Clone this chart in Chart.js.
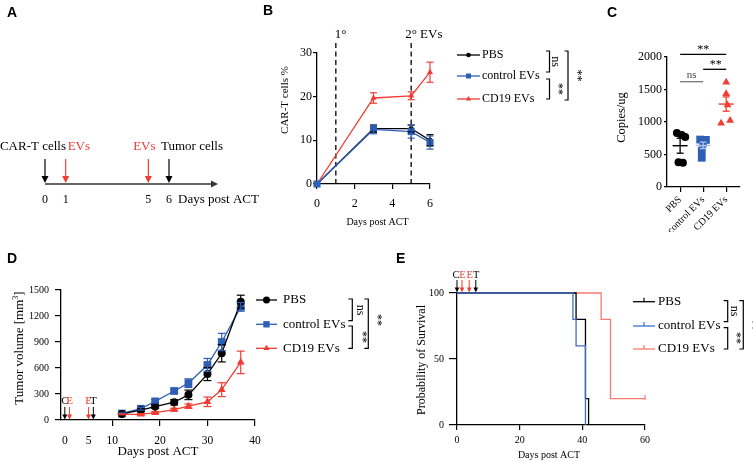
<!DOCTYPE html>
<html><head><meta charset="utf-8">
<script src="https://cdn.jsdelivr.net/npm/chart.js@4.4.1/dist/chart.umd.min.js"></script>
<style>
html,body{margin:0;padding:0;background:#fff;}
#wrap{position:relative;width:753px;height:462px;overflow:hidden;background:#fff;}
#wrap canvas{position:absolute;left:0;top:0;}
.lbl{position:absolute;font:bold 14px "Liberation Sans",Arial,sans-serif;color:#000;line-height:14px;}
</style></head><body>
<div id="wrap">
<canvas id="cA" width="753" height="462"></canvas>
<canvas id="cB" width="753" height="462"></canvas>
<canvas id="cC" width="753" height="462"></canvas>
<canvas id="cD" width="753" height="462"></canvas>
<canvas id="cE" width="753" height="462"></canvas>
<div class="lbl" style="left:7px;top:5px">A</div>
<div class="lbl" style="left:263px;top:3px">B</div>
<div class="lbl" style="left:607px;top:5px">C</div>
<div class="lbl" style="left:7px;top:251px">D</div>
<div class="lbl" style="left:396px;top:251px">E</div>
</div>
<script>
// ---------------- DATA ----------------
// Panel A (timeline)
const timelineDays = [0, 1, 5, 6];
const timelineEvents = ['CAR-T cells', 'EVs', 'EVs', 'Tumor cells'];
const timelineTicks = [0, 1, 5, 6];

// Panel B
const bDays = [0, 3, 5, 6];
const bPBS = [0, 12.7, 12.7, 10.0];
const bPBSErr = [0, 0.8, 0.8, 1.3];
const bCtrl = [0, 12.5, 12.0, 9.5];
const bCtrlErr = [0, 1.0, 1.5, 1.5];
const bCD19 = [0, 19.7, 20.2, 25.6];
const bCD19Err = [0, 1.2, 0.9, 2.3];
const bEVDays = [1, 5];
const bEVLabels = ['1°', '2° EVs'];
const bXTicks = [0, 2, 4, 6];
const bYTicks = [0, 10, 20, 30];

// Panel C
const cGroups = ['PBS', 'control EVs', 'CD19 EVs'];
const cPBS = [830, 800, 770, 380, 375];
const cPBSJitter = [-0.14, 0.07, 0.22, -0.07, 0.12];
const cCtrl = [730, 725, 680, 555, 450];
const cCtrlJitter = [-0.13, 0.12, 0.0, -0.06, -0.06];
const cCD19 = [1610, 1435, 1260, 982, 1023];
const cCD19Jitter = [0.0, 0.0, 0.06, -0.22, 0.17];
const cMean = [635, 640, 1276];
const cSEM = [115, 50, 110];
const cYTicks = [0, 500, 1000, 1500, 2000];

// Panel D
const dDays = [12, 16, 19, 23, 26, 30, 33, 37];
const dPBS = [70, 115, 155, 205, 290, 530, 770, 1365];
const dPBSErr = [8, 15, 20, 30, 55, 75, 100, 75];
const dCtrl = [75, 130, 215, 335, 425, 635, 900, 1305];
const dCtrlErr = [8, 15, 20, 20, 50, 75, 100, 50];
const dCD19 = [65, 65, 85, 120, 160, 210, 350, 665];
const dCD19Err = [5, 10, 12, 15, 25, 55, 80, 130];
const dEventDays = [0, 1, 5, 6];
const dEventLabels = ['C', 'E', 'E', 'T'];
const dXTicks = [0, 5, 10, 20, 30, 40];
const dYTicks = [0, 300, 600, 900, 1200, 1500];

// Panel E (Kaplan-Meier)
const ePBSTimes = [0, 38, 41, 42];
const ePBSSurv = [100, 80, 20, 0];
const eCtrlTimes = [0, 37, 38, 41];
const eCtrlSurv = [100, 80, 60, 0];
const eCD19Times = [0, 46, 49, 60];
const eCD19Surv = [100, 80, 20, 20];
const eEventDays = [0, 1.6, 3.9, 6];
const eEventLabels = ['C', 'E', 'E', 'T'];
const eXTicks = [0, 20, 40, 60];
const eYTicks = [0, 50, 100];

const seriesNames = ['PBS', 'control EVs', 'CD19 EVs'];

// ---------------- STYLE ----------------
const SERIF = '"Liberation Serif","Times New Roman",serif';
const BLACK = '#000000', BLUE = '#2f5fb5', RED = '#f03c32';
const BLUE_E = '#3d6fc6', RED_E = '#f47b6e';
const eventColor = l => (l === 'E' || l === 'EVs') ? RED : BLACK;

// ---------------- HELPERS ----------------
function txt(ctx, s, x, y, size, color, align, rot) {
  ctx.save();
  ctx.font = size + 'px ' + SERIF;
  ctx.fillStyle = color || '#000';
  ctx.textAlign = align || 'center';
  ctx.textBaseline = 'middle';
  ctx.translate(x, y);
  if (rot) ctx.rotate(rot);
  ctx.fillText(s, 0, 0);
  ctx.restore();
}
function seg(ctx, x1, y1, x2, y2, color, w, dash) {
  ctx.save();
  ctx.strokeStyle = color || '#000';
  ctx.lineWidth = w || 1.2;
  if (dash) ctx.setLineDash(dash);
  ctx.beginPath(); ctx.moveTo(x1, y1); ctx.lineTo(x2, y2); ctx.stroke();
  ctx.restore();
}
function arrowDown(ctx, x, y1, y2, color, hw, hh, w) {
  seg(ctx, x, y1, x, y2 - hh + 1, color, w || 1.2);
  ctx.save(); ctx.fillStyle = color; ctx.beginPath();
  ctx.moveTo(x - hw, y2 - hh); ctx.lineTo(x + hw, y2 - hh); ctx.lineTo(x, y2); ctx.closePath(); ctx.fill();
  ctx.restore();
}
function bracket(ctx, x, y1, y2, t) {
  ctx.save(); ctx.strokeStyle = '#000'; ctx.lineWidth = 1.2;
  ctx.beginPath(); ctx.moveTo(x - t, y1); ctx.lineTo(x, y1); ctx.lineTo(x, y2); ctx.lineTo(x - t, y2); ctx.stroke();
  ctx.restore();
}
function mark(ctx, style, x, y, r, color) {
  ctx.save(); ctx.fillStyle = color; ctx.beginPath();
  if (style === 'circle') ctx.arc(x, y, r, 0, Math.PI * 2);
  else if (style === 'rect') { const s = r * Math.SQRT1_2; ctx.rect(x - s, y - s, 2 * s, 2 * s); }
  else { ctx.moveTo(x, y - r); ctx.lineTo(x + r * 0.866, y + r * 0.5); ctx.lineTo(x - r * 0.866, y + r * 0.5); ctx.closePath(); }
  ctx.fill(); ctx.restore();
}
function errBars(chart, xs, ys, errs, color, cap) {
  const X = chart.scales.x, Y = chart.scales.y, ctx = chart.ctx;
  xs.forEach((xv, i) => {
    if (!errs[i]) return;
    const px = X.getPixelForValue(xv);
    const yt = Y.getPixelForValue(ys[i] + errs[i]), yb = Y.getPixelForValue(ys[i] - errs[i]);
    seg(ctx, px, yt, px, yb, color, 1.2);
    seg(ctx, px - cap, yt, px + cap, yt, color, 1.2);
    seg(ctx, px - cap, yb, px + cap, yb, color, 1.2);
  });
}
function pts(xs, ys) { return xs.map((x, i) => ({ x: x, y: ys[i] })); }

function ax(o) {
  return {
    type: 'linear', min: o.min, max: o.max, display: o.display !== false,
    afterBuildTicks: s => { s.ticks = o.ticks.map(v => ({ value: v })); },
    afterFit: s => {
      if (o.w != null) s.width = o.w;
      if (o.h != null) s.height = o.h;
      s.paddingLeft = 0; s.paddingRight = 0; s.paddingTop = 0; s.paddingBottom = 0;
    },
    grid: { display: o.grid !== false, drawOnChartArea: false, drawTicks: o.grid !== false, tickLength: o.tl || 0, lineWidth: 1.2, color: o.gridColor || '#000' },
    border: { display: o.border !== false, color: '#000', width: 1.3 },
    ticks: { autoSkip: false, maxRotation: o.rot || 0, minRotation: o.rot || 0, padding: o.pad, color: '#000',
      font: { family: SERIF, size: o.size }, callback: o.cb || (v => String(v)) }
  };
}
function opts(pad, xs, ys) {
  return {
    responsive: false, animation: false, events: [], maintainAspectRatio: false,
    layout: { padding: pad },
    plugins: { legend: { display: false }, tooltip: { enabled: false }, title: { display: false } },
    scales: { x: xs, y: ys }
  };
}
function legendItem(ctx, x1, x2, y, color, style, r, tx, text, size) {
  seg(ctx, x1, y, x2, y, color, 1.3);
  if (style) mark(ctx, style, (x1 + x2) / 2, y, r, color);
  txt(ctx, text, tx, y, size, '#000', 'left');
}

// ---------------- PANEL A ----------------
new Chart(document.getElementById('cA'), {
  type: 'scatter',
  data: { datasets: [{ data: timelineDays.map(d => ({ x: d, y: 0 })), pointRadius: 0, showLine: false }] },
  options: opts({ left: 45, right: 753 - 218, top: 150, bottom: 462 - 184 - 30 },
    ax({ min: 0, max: 8.37, ticks: timelineTicks, grid: false, border: false, pad: 9, size: 12, h: 30 }),
    ax({ min: 0, max: 1, ticks: [0, 1], display: false })),
  plugins: [{
    id: 'aExtras',
    afterDraw(chart) {
      const ctx = chart.ctx, X = chart.scales.x, yb = chart.chartArea.bottom;
      const x0 = X.getPixelForValue(0), xe = chart.chartArea.right;
      seg(ctx, x0, yb, xe - 5, yb, '#333', 1.3);
      ctx.save(); ctx.fillStyle = '#333'; ctx.beginPath();
      ctx.moveTo(xe - 7, yb - 3.5); ctx.lineTo(xe, yb); ctx.lineTo(xe - 7, yb + 3.5); ctx.closePath(); ctx.fill(); ctx.restore();
      const offs = [[21, 'right'], [2, 'left'], [-4, 'center'], [-8, 'left']];
      timelineDays.forEach((d, i) => {
        const px = X.getPixelForValue(d), c = eventColor(timelineEvents[i]);
        arrowDown(ctx, px, yb - 25, yb - 1, c, 3.5, 7, 1.2);
        txt(ctx, timelineEvents[i], px + offs[i][0], yb - 37, 13, c, offs[i][1]);
      });
      txt(ctx, 'Days post ACT', 178, 200, 13, '#000', 'left');
    }
  }]
});

// ---------------- PANEL B ----------------
new Chart(document.getElementById('cB'), {
  type: 'scatter',
  data: { datasets: [
    { data: pts(bDays, bPBS), borderColor: BLACK, backgroundColor: BLACK, showLine: true, borderWidth: 1.3, pointStyle: 'circle', pointRadius: 2.5, pointBorderWidth: 0, order: 3, clip: false },
    { data: pts(bDays, bCtrl), borderColor: BLUE, backgroundColor: BLUE, showLine: true, borderWidth: 1.3, pointStyle: 'rect', pointRadius: 5, pointBorderWidth: 0, order: 1, clip: false },
    { data: pts(bDays, bCD19), borderColor: RED, backgroundColor: RED, showLine: true, borderWidth: 1.3, pointStyle: 'triangle', pointRadius: 3.5, pointBorderWidth: 0, order: 2, clip: false }
  ] },
  options: opts({ left: 317 - 40, right: 753 - 430, top: 53, bottom: 462 - 184 - 45 },
    ax({ min: 0, max: 6, ticks: bXTicks, tl: 5, pad: 8, size: 12, h: 45 }),
    ax({ min: 0, max: 30, ticks: bYTicks, tl: 4, pad: 1, size: 12, w: 40 })),
  plugins: [{
    id: 'bExtras',
    beforeDatasetsDraw(chart) {
      const ctx = chart.ctx, X = chart.scales.x, Y = chart.scales.y;
      bEVDays.forEach((d, i) => {
        const px = X.getPixelForValue(d);
        seg(ctx, px, 43, px, Y.getPixelForValue(0), '#000', 1.3, [5, 3.5]);
        txt(ctx, bEVLabels[i], px + (i === 0 ? -1 : -6), 35, 13, '#000', 'left');
      });
    },
    afterDatasetsDraw(chart) {
      const ctx = chart.ctx;
      errBars(chart, bDays, bPBS, bPBSErr, BLACK, 3.5);
      errBars(chart, bDays, bCtrl, bCtrlErr, BLUE, 3.5);
      errBars(chart, bDays, bCD19, bCD19Err, RED, 3.5);
      legendItem(ctx, 457, 480, 55, BLACK, 'circle', 2.3, 482, seriesNames[0], 12);
      legendItem(ctx, 457, 480, 76, BLUE, 'rect', 3.5, 482, seriesNames[1], 12);
      legendItem(ctx, 457, 480, 99, RED, 'triangle', 3, 482, seriesNames[2], 12);
      bracket(ctx, 549.5, 51, 72, 3.5);
      txt(ctx, 'ns', 555.5, 61.5, 12, '#000', 'center', Math.PI / 2);
      bracket(ctx, 549.5, 79, 99, 3.5);
      txt(ctx, '**', 558, 89, 12, '#000', 'center', Math.PI / 2);
      bracket(ctx, 568, 51, 100, 3.5);
      txt(ctx, '**', 577, 75.5, 12, '#000', 'center', Math.PI / 2);
      txt(ctx, 'CAR-T cells %', 285, 100, 11, '#000', 'center', -Math.PI / 2);
      txt(ctx, 'Days post ACT', 377.5, 222, 10, '#000', 'center');
    }
  }]
});

// ---------------- PANEL C ----------------
new Chart(document.getElementById('cC'), {
  type: 'scatter',
  data: { datasets: [
    { data: cPBS.map((v, i) => ({ x: 0 + cPBSJitter[i], y: v })), backgroundColor: BLACK, pointStyle: 'circle', pointRadius: 4, pointBorderWidth: 0, clip: false },
    { data: cCtrl.map((v, i) => ({ x: 1 + cCtrlJitter[i], y: v })), backgroundColor: BLUE, pointStyle: 'rect', pointRadius: 5.5, pointBorderWidth: 0, clip: false },
    { data: cCD19.map((v, i) => ({ x: 2 + cCD19Jitter[i], y: v })), backgroundColor: RED, pointStyle: 'triangle', pointRadius: 4.5, pointBorderWidth: 0, clip: false }
  ] },
  options: opts({ left: 667 - 52, right: 753 - 740, top: 57, bottom: 462 - 187 - 45 },
    ax({ min: -0.57, max: 2.6, ticks: [0, 1, 2], tl: 5, pad: 2, size: 10, rot: 45, h: 45, cb: v => cGroups[v] }),
    ax({ min: 0, max: 2000, ticks: cYTicks, tl: 3, pad: 2, size: 12, w: 52 })),
  plugins: [{
    id: 'cExtras',
    afterDatasetsDraw(chart) {
      const ctx = chart.ctx, X = chart.scales.x, Y = chart.scales.y;
      const mcol = [BLACK, '#a9c0ec', RED];
      cMean.forEach((m, g) => {
        const px = X.getPixelForValue(g), pm = Y.getPixelForValue(m);
        const pt = Y.getPixelForValue(m + cSEM[g]), pb = Y.getPixelForValue(m - cSEM[g]);
        seg(ctx, px - 7.5, pm, px + 7.5, pm, mcol[g], 1.4);
        seg(ctx, px, pt, px, pb, mcol[g], 1.3);
        seg(ctx, px - 3.5, pt, px + 3.5, pt, mcol[g], 1.3);
        seg(ctx, px - 3.5, pb, px + 3.5, pb, mcol[g], 1.3);
      });
      const p0 = X.getPixelForValue(0), p1 = X.getPixelForValue(1), p2 = X.getPixelForValue(2);
      seg(ctx, p0, 54.3, p2, 54.3, '#000', 1.3);
      txt(ctx, '**', (p0 + p2) / 2, 50, 12, '#000', 'center');
      seg(ctx, p1, 69.3, p2, 69.3, '#000', 1.3);
      txt(ctx, '**', (p1 + p2) / 2 + 1, 65, 12, '#000', 'center');
      seg(ctx, p0, 81.7, p1, 81.7, '#777', 1.3);
      txt(ctx, 'ns', (p0 + p1) / 2, 75, 11, '#444', 'center');
      txt(ctx, 'Copies/ug', 622, 117.5, 12.5, '#000', 'center', -Math.PI / 2);
    }
  }]
});

// ---------------- PANEL D ----------------
new Chart(document.getElementById('cD'), {
  type: 'scatter',
  data: { datasets: [
    { data: pts(dDays, dPBS), borderColor: BLACK, backgroundColor: BLACK, showLine: true, borderWidth: 1.3, pointStyle: 'circle', pointRadius: 4, pointBorderWidth: 0, order: 1, clip: false },
    { data: pts(dDays, dCtrl), borderColor: BLUE, backgroundColor: BLUE, showLine: true, borderWidth: 1.3, pointStyle: 'rect', pointRadius: 5.5, pointBorderWidth: 0, order: 2, clip: false },
    { data: pts(dDays, dCD19), borderColor: RED, backgroundColor: RED, showLine: true, borderWidth: 1.3, pointStyle: 'triangle', pointRadius: 4.5, pointBorderWidth: 0, order: 3, clip: false }
  ] },
  options: opts({ left: 61 - 49, right: 753 - 255, top: 290, bottom: 462 - 420 - 40 },
    ax({ min: -0.8, max: 40, ticks: dXTicks, tl: 6, pad: 8, size: 11.5, h: 40,
      gridColor: c => (c.tick && c.tick.value < 10) ? 'rgba(0,0,0,0)' : '#000' }),
    ax({ min: 0, max: 1500, ticks: dYTicks, tl: 6, pad: 6, size: 10, w: 49 })),
  plugins: [{
    id: 'dExtras',
    afterDatasetsDraw(chart) {
      const ctx = chart.ctx, X = chart.scales.x, Y = chart.scales.y;
      errBars(chart, dDays, dPBS, dPBSErr, BLACK, 4);
      errBars(chart, dDays, dCtrl, dCtrlErr, BLUE, 4);
      errBars(chart, dDays, dCD19, dCD19Err, RED, 4);
      const y0 = Y.getPixelForValue(0);
      dEventDays.forEach((d, i) => {
        const px = X.getPixelForValue(d), c = eventColor(dEventLabels[i]);
        arrowDown(ctx, px, y0 - 13, y0 - 0.5, c, 2.5, 5, 1);
        txt(ctx, dEventLabels[i], px, y0 - 18.5, 11, c, 'center');
      });
      legendItem(ctx, 256, 277, 300, BLACK, 'circle', 3.5, 283, seriesNames[0], 13);
      legendItem(ctx, 256, 277, 324.3, BLUE, 'rect', 4.5, 283, seriesNames[1], 13);
      legendItem(ctx, 256, 277, 348.3, RED, 'triangle', 3.5, 283, seriesNames[2], 13);
      bracket(ctx, 352.3, 299, 320.7, 4);
      txt(ctx, 'ns', 360, 310, 12, '#000', 'center', Math.PI / 2);
      bracket(ctx, 352.3, 326, 348.3, 4);
      txt(ctx, '**', 362, 337, 12, '#000', 'center', Math.PI / 2);
      bracket(ctx, 368.3, 299, 348.3, 4);
      txt(ctx, '**', 377, 320, 12, '#000', 'center', Math.PI / 2);
      // y title with superscript
      ctx.save(); ctx.translate(20, 348); ctx.rotate(-Math.PI / 2);
      ctx.fillStyle = '#000'; ctx.textBaseline = 'middle'; ctx.textAlign = 'left';
      const a = 'Tumor volume [mm', b = '3', c = ']';
      ctx.font = '13px ' + SERIF; const wa = ctx.measureText(a).width, wc = ctx.measureText(c).width;
      ctx.font = '8px ' + SERIF; const wb = ctx.measureText(b).width;
      const x0 = -(wa + wb + wc) / 2;
      ctx.font = '13px ' + SERIF; ctx.fillText(a, x0, 0);
      ctx.font = '8px ' + SERIF; ctx.fillText(b, x0 + wa, -4);
      ctx.font = '13px ' + SERIF; ctx.fillText(c, x0 + wa + wb, 0);
      ctx.restore();
      txt(ctx, 'Days post ACT', 158, 452, 13, '#000', 'center');
    }
  }]
});

// ---------------- PANEL E ----------------
new Chart(document.getElementById('cE'), {
  type: 'scatter',
  data: { datasets: [
    { data: pts(ePBSTimes, ePBSSurv), borderColor: BLACK, showLine: true, stepped: 'before', borderWidth: 1.3, pointRadius: 0, order: 2, clip: false },
    { data: pts(eCtrlTimes, eCtrlSurv), borderColor: BLUE_E, showLine: true, stepped: 'before', borderWidth: 1.3, pointRadius: 0, order: 1, clip: false },
    { data: pts(eCD19Times, eCD19Surv), borderColor: RED_E, showLine: true, stepped: 'before', borderWidth: 1.3, pointRadius: 0, order: 3, clip: false }
  ] },
  options: opts({ left: 457 - 42, right: 753 - 645, top: 293, bottom: 462 - 425 - 36 },
    ax({ min: 0, max: 60, ticks: eXTicks, tl: 5, pad: 4, size: 10, h: 36 }),
    ax({ min: 0, max: 100, ticks: eYTicks, tl: 8, pad: 5, size: 10, w: 42 })),
  plugins: [{
    id: 'eExtras',
    afterDatasetsDraw(chart) {
      const ctx = chart.ctx, X = chart.scales.x, Y = chart.scales.y;
      const n = eCD19Times.length - 1;
      const cx = X.getPixelForValue(eCD19Times[n]), cy = Y.getPixelForValue(eCD19Surv[n]);
      seg(ctx, cx, cy - 3.5, cx, cy + 1.5, RED_E, 1.2);
      const y100 = Y.getPixelForValue(100);
      eEventDays.forEach((d, i) => {
        const px = X.getPixelForValue(d), c = eventColor(eEventLabels[i]);
        arrowDown(ctx, px, y100 - 13, y100 - 0.5, c, 2.3, 5, 1);
        txt(ctx, eEventLabels[i], px + (i === 0 ? -1 : 0.5), y100 - 18, 10.5, c, 'center');
      });
      const ly = [301.7, 326, 349], lc = [BLACK, BLUE_E, RED_E];
      ly.forEach((y, i) => {
        seg(ctx, 633, y, 655, y, lc[i], 1.3);
        seg(ctx, 644, y - 4, 644, y, lc[i], 1.2);
        txt(ctx, seriesNames[i], 658, y, 13, '#000', 'left');
      });
      bracket(ctx, 727.7, 300.7, 321.7, 4);
      txt(ctx, 'ns', 734, 311, 12, '#000', 'center', Math.PI / 2);
      bracket(ctx, 727.7, 327.7, 349, 4);
      txt(ctx, '**', 736, 338, 12, '#000', 'center', Math.PI / 2);
      bracket(ctx, 743.3, 300.7, 349, 4);
      txt(ctx, '**', 752, 325, 12, '#000', 'center', Math.PI / 2);
      txt(ctx, 'Probability of Survival', 422, 360, 12, '#000', 'center', -Math.PI / 2);
      txt(ctx, 'Days post ACT', 549, 455, 10, '#000', 'center');
    }
  }]
});
</script>
</body></html>
